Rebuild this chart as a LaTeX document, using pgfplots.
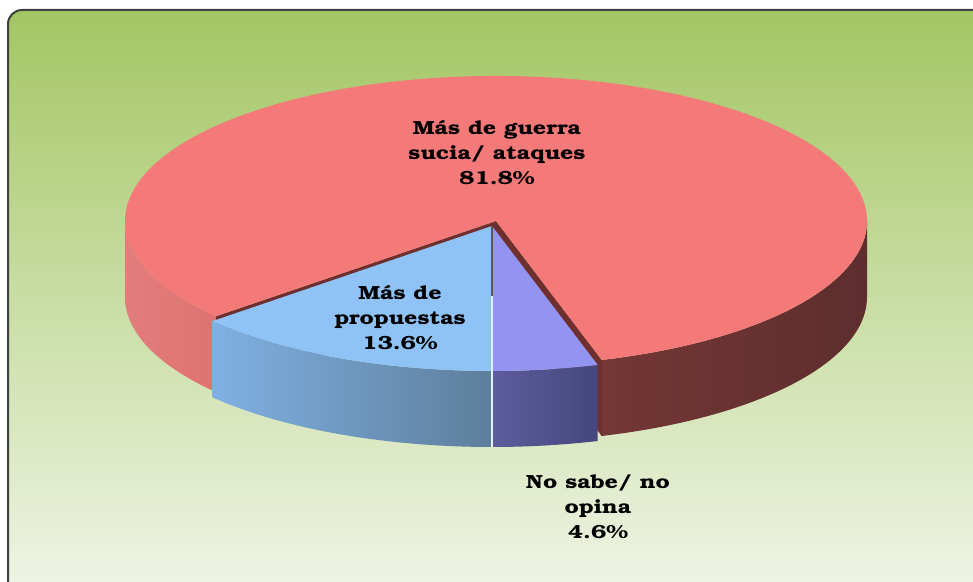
\documentclass[border=0pt]{standalone}
\usepackage[T1]{fontenc}
\usepackage{bookman}
\usepackage{pgfplots}
\usepackage{pgfplotstable}
\pgfplotsset{compat=1.18}

\definecolor{bgTop}{HTML}{A3C663}
\definecolor{bgMid}{HTML}{C6DC9A}
\definecolor{bgBot}{HTML}{F2F6EA}
\definecolor{redTop}{HTML}{F47A7A}
\definecolor{redSideL}{HTML}{DF7272}
\definecolor{redSideR1}{HTML}{743735}
\definecolor{redSideR2}{HTML}{5E2D2D}
\definecolor{redCut}{HTML}{6E2F2E}
\definecolor{blueTop}{HTML}{8FC2F5}
\definecolor{blueSide1}{HTML}{7FB1E3}
\definecolor{blueSide2}{HTML}{5D7E9B}
\definecolor{purTop}{HTML}{9393F1}
\definecolor{purSide1}{HTML}{5C5C9C}
\definecolor{purSide2}{HTML}{46467E}

% shares in percent: guerra sucia, propuestas, no sabe
\pgfplotstableread{
value
81.8
13.6
4.6
}\piedata

% pie geometry in pixel units (1 unit = 0.5bp)
\def\rcx{496}\def\rcy{361}
\def\fcx{492}\def\fcy{356}
\def\ea{371}\def\eb{145}
\tikzset{ell/.style={x radius=185.5bp, y radius=72.5bp}}

\begin{document}
\begin{tikzpicture}
\pgfplotstablegetelem{0}{value}\of\piedata\let\vRed\pgfplotsretval
\pgfplotstablegetelem{1}{value}\of\piedata\let\vBlu\pgfplotsretval
\pgfplotstablegetelem{2}{value}\of\piedata\let\vPur\pgfplotsretval
\pgfmathsetmacro\aPur{270+3.6*\vPur}
\pgfmathsetmacro\aBlu{270-3.6*\vBlu}
\pgfmathsetmacro\aRedEnd{\aPur+3.6*\vRed}
\begin{axis}[x=0.5bp, y=0.5bp, xmin=0, xmax=973, ymin=0, ymax=582, hide axis]
% background panel
\shadedraw[top color=bgTop, middle color=bgMid, bottom color=bgBot, draw=black!75, line width=1bp, rounded corners=7bp]
  (axis cs:8,572) rectangle (axis cs:1000,-30);
% red side, left part
\shade[left color=redSideL!92!white, right color=redSideL]
  (axis cs:{\rcx-\ea},\rcy) arc[start angle=180, end angle=\aBlu, ell]
  -- ++(0bp,-38bp) arc[start angle=\aBlu, end angle=180, ell] -- cycle;
% red side, right part
\shade[left color=redSideR1, right color=redSideR2]
  (axis cs:{\rcx+\ea*cos(\aPur)},{\rcy+\eb*sin(\aPur)}) arc[start angle=\aPur, end angle=360, ell]
  -- ++(0bp,-38bp) arc[start angle=360, end angle=\aPur, ell] -- cycle;
% red cut faces
\fill[redCut] (axis cs:\rcx,\rcy) -- (axis cs:{\rcx+\ea*cos(\aBlu)},{\rcy+\eb*sin(\aBlu)})
  -- ++(0bp,-38bp) -- ([yshift=-38bp]axis cs:\rcx,\rcy) -- cycle;
\fill[redCut] (axis cs:\rcx,\rcy) -- (axis cs:{\rcx+\ea*cos(\aPur)},{\rcy+\eb*sin(\aPur)})
  -- ++(0bp,-38bp) -- ([yshift=-38bp]axis cs:\rcx,\rcy) -- cycle;
% red top
\fill[redTop] (axis cs:\rcx,\rcy) -- (axis cs:{\rcx+\ea*cos(\aPur)},{\rcy+\eb*sin(\aPur)})
  arc[start angle=\aPur, end angle=\aRedEnd, ell] -- cycle;
% blue slice
\shade[left color=blueSide1, right color=blueSide2]
  (axis cs:{\fcx+\ea*cos(\aBlu)},{\fcy+\eb*sin(\aBlu)}) arc[start angle=\aBlu, end angle=270, ell]
  -- ++(0bp,-38bp) arc[start angle=270, end angle=\aBlu, ell] -- cycle;
\fill[blueTop] (axis cs:\fcx,\fcy) -- (axis cs:{\fcx+\ea*cos(\aBlu)},{\fcy+\eb*sin(\aBlu)})
  arc[start angle=\aBlu, end angle=270, ell] -- cycle;
% purple slice
\shade[left color=purSide1, right color=purSide2]
  (axis cs:\fcx,{\fcy-\eb}) arc[start angle=270, end angle=\aPur, ell]
  -- ++(0bp,-38bp) arc[start angle=\aPur, end angle=270, ell] -- cycle;
\fill[purTop] (axis cs:\fcx,\fcy) -- (axis cs:\fcx,{\fcy-\eb})
  arc[start angle=270, end angle=\aPur, ell] -- cycle;
% divider between the front slices
\draw[black!65, line width=0.6bp] (axis cs:\fcx,\fcy) -- (axis cs:\fcx,286);
\draw[white!75!blueTop, line width=0.8bp] (axis cs:\fcx,286) -- (axis cs:\fcx,{\fcy-\eb}) -- ++(0bp,-38bp);
% labels
\tikzset{lbl/.style={font=\bfseries\fontsize{9.5bp}{12.5bp}\selectfont, align=center, xscale=1.22, transform shape, text=black}}
\node[lbl] at (axis cs:497,429) {Más de guerra\\sucia/ ataques\\81.8\%};
\node[lbl] at (axis cs:400,264) {Más de\\propuestas\\13.6\%};
\node[lbl] at (axis cs:598,75) {No sabe/ no\\opina\\4.6\%};
\end{axis}
\pgfresetboundingbox
\path[use as bounding box] (current axis.south west) rectangle (current axis.north east);
\end{tikzpicture}
\end{document}
